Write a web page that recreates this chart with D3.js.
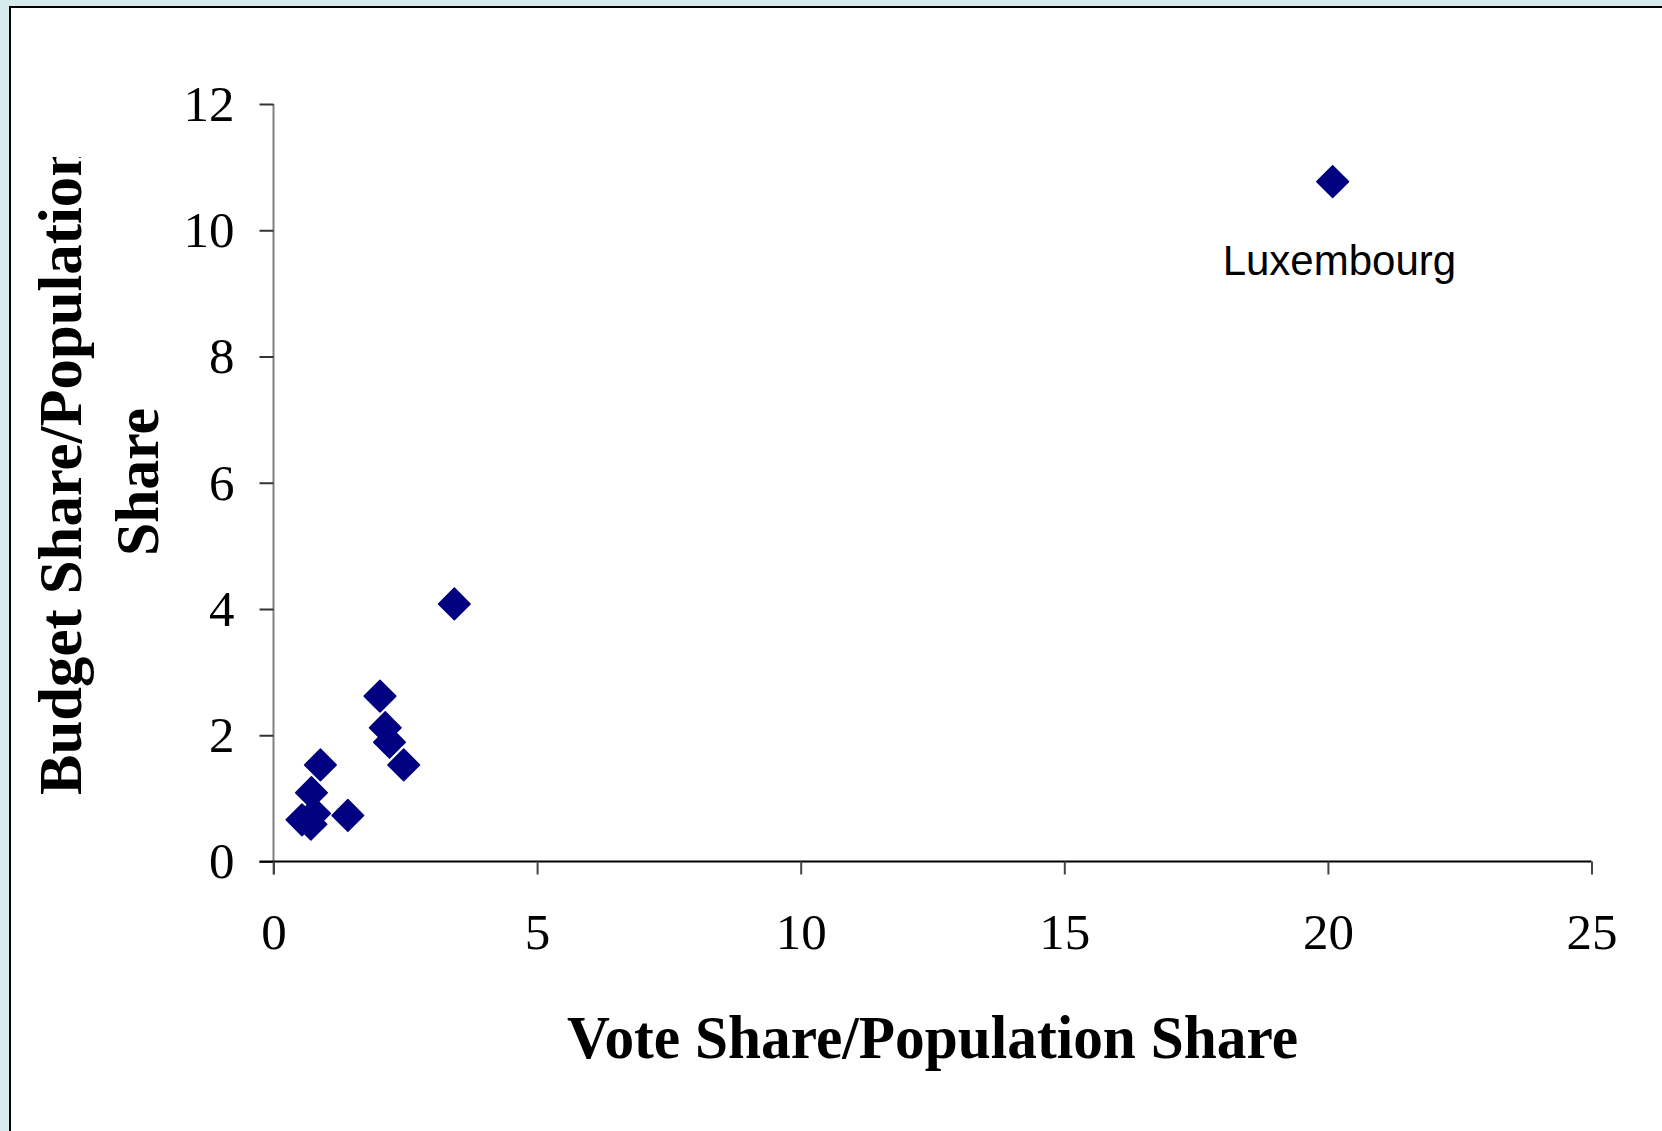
<!DOCTYPE html>
<html>
<head>
<meta charset="utf-8">
<script src="https://cdn.jsdelivr.net/npm/d3@7/dist/d3.min.js"></script>
<style>
  html, body { margin: 0; padding: 0; background: #d7ebef; }
  svg { display: block; }
</style>
</head>
<body>
<svg id="chart" width="1662" height="1131"></svg>
<script>
// ---- data ----
const voteShareRatio   = [0.54, 0.71, 0.72, 0.78, 0.89, 1.41, 2.02, 2.12, 2.20, 2.47, 3.43, 20.09];
const budgetShareRatio = [0.66, 0.59, 1.09, 0.76, 1.53, 0.73, 2.62, 2.12, 1.89, 1.53, 4.08, 10.77];
const pointLabels      = ["", "", "", "", "", "", "", "", "", "", "", "Luxembourg"];
const xTicks = [0, 5, 10, 15, 20, 25];
const yTicks = [0, 2, 4, 6, 8, 10, 12];
const xTitle = "Vote Share/Population Share";
const yTitleLines = ["Budget Share/Population", "Share"];

const points = voteShareRatio.map((v, i) => ({ x: v, y: budgetShareRatio[i], label: pointLabels[i] }));

const svg = d3.select("#chart");
const W = 1662, H = 1131;

// background + panel
svg.append("rect").attr("width", W).attr("height", H).attr("fill", "#d7ebef");
svg.append("rect").attr("x", 10).attr("y", 7).attr("width", W).attr("height", H)
  .attr("fill", "#ffffff").attr("stroke", "#000").attr("stroke-width", 2);

const x = d3.scaleLinear().domain([0, 25]).range([273.5, 1591.5]);
const y = d3.scaleLinear().domain([0, 12]).range([861.5, 104]);

const serif = "'Liberation Serif', 'Times New Roman', serif";

// y axis
const yAxis = svg.append("g").attr("transform", `translate(${x(0)},0)`)
  .call(d3.axisLeft(y).tickValues(yTicks).tickSize(14).tickSizeOuter(0).tickPadding(25).tickFormat(d3.format("d")));
yAxis.select(".domain").attr("stroke", "#808080").attr("stroke-width", 2)
  .attr("d", `M0,${y(12)}V${y(0) + 13}`);
yAxis.selectAll(".tick line").attr("stroke", "#333").attr("stroke-width", 2);
yAxis.selectAll(".tick text").attr("font-family", serif).attr("font-size", 51).attr("fill", "#000");

// x axis
const xAxis = svg.append("g").attr("transform", `translate(0,${y(0)})`)
  .call(d3.axisBottom(x).tickValues(xTicks).tickSize(13).tickSizeOuter(0).tickPadding(38).tickFormat(d3.format("d")));
xAxis.select(".domain").attr("stroke", "#000").attr("stroke-width", 2)
  .attr("d", `M${x(0) - 14},0H${x(25)}`);
xAxis.selectAll(".tick line").attr("stroke", "#444").attr("stroke-width", 2);
xAxis.selectAll(".tick text").attr("font-family", serif).attr("font-size", 51).attr("fill", "#000");

// markers
const diamond = d3.symbol().type(d3.symbolSquare).size(500);
svg.append("g").selectAll("path").data(points).join("path")
  .attr("d", diamond)
  .attr("transform", d => `translate(${x(d.x)},${y(d.y)}) rotate(45)`)
  .attr("fill", "#000080")
  .attr("stroke", "#000080").attr("stroke-width", 1.5).attr("stroke-linejoin", "round");

// data label
svg.append("g").selectAll("text").data(points.filter(d => d.label)).join("text")
  .attr("x", d => x(d.x) - 110)
  .attr("y", d => y(d.y) + 93)
  .attr("font-family", "'Liberation Sans', Arial, sans-serif")
  .attr("font-size", 42)
  .attr("fill", "#000")
  .text(d => d.label);

// x title
svg.append("text")
  .attr("x", (x(0) + x(25)) / 2).attr("y", 1058)
  .attr("text-anchor", "middle")
  .attr("font-family", serif).attr("font-weight", "bold").attr("font-size", 62)
  .attr("textLength", 731).attr("lengthAdjust", "spacingAndGlyphs")
  .text(xTitle);

// y title (clipped at top, as in the original)
svg.append("clipPath").attr("id", "ytclip")
  .append("rect").attr("x", 0).attr("y", 157).attr("width", 250).attr("height", 900);
const yt = svg.append("g").attr("clip-path", "url(#ytclip)");
yt.append("text")
  .attr("transform", "translate(81,469) rotate(-90)")
  .attr("text-anchor", "middle")
  .attr("font-family", serif).attr("font-weight", "bold").attr("font-size", 62)
  .attr("textLength", 652).attr("lengthAdjust", "spacingAndGlyphs")
  .text(yTitleLines[0]);
yt.append("text")
  .attr("transform", "translate(158,482) rotate(-90)")
  .attr("text-anchor", "middle")
  .attr("font-family", serif).attr("font-weight", "bold").attr("font-size", 62)
  .attr("textLength", 148).attr("lengthAdjust", "spacingAndGlyphs")
  .text(yTitleLines[1]);
</script>
</body>
</html>
